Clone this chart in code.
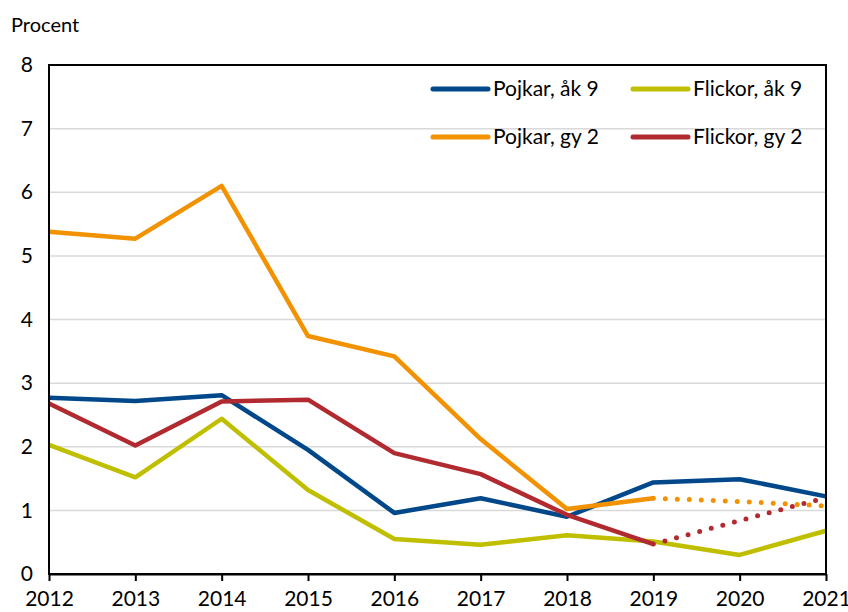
<!DOCTYPE html>
<html>
<head>
<meta charset="utf-8">
<script src="https://cdn.jsdelivr.net/npm/d3@7"></script>
<style>
  body { margin: 0; background: #fff; }
  svg text { font-family: "Lato", "Open Sans", sans-serif; fill: #000; }
</style>
</head>
<body>
<div id="chart"></div>
<script>
// DATA
const years = [2012, 2013, 2014, 2015, 2016, 2017, 2018, 2019, 2020, 2021];
const yTicks = [0, 1, 2, 3, 4, 5, 6, 7, 8];

const pojkarAk9 = [2.77, 2.72, 2.81, 1.95, 0.96, 1.19, 0.90, 1.44, 1.49, 1.22];
const flickorAk9 = [2.03, 1.52, 2.44, 1.32, 0.55, 0.46, 0.61, 0.51, 0.30, 0.68];
// gy 2: solid through 2019, dotted after
const pojkarGy2 = [5.38, 5.27, 6.10, 3.74, 3.42, 2.12, 1.02, 1.19, 1.14, 1.07];
const flickorGy2 = [2.68, 2.02, 2.71, 2.74, 1.90, 1.57, 0.93, 0.47, 0.84, 1.20];

const series = [
  { name: "Pojkar, åk 9", color: "#00488a", values: pojkarAk9, solidTo: 2021 },
  { name: "Flickor, åk 9", color: "#bfbf00", values: flickorAk9, solidTo: 2021 },
  { name: "Pojkar, gy 2", color: "#f39200", values: pojkarGy2, solidTo: 2019 },
  { name: "Flickor, gy 2", color: "#b02a30", values: flickorGy2, solidTo: 2019 }
];

let width = 848,
  height = 612,
  margin = { top: 65, bottom: 38, left: 49, right: 22 };

// SCALES
const xScale = d3
  .scaleLinear()
  .domain([2012, 2021])
  .range([margin.left, width - margin.right]);

const yScale = d3
  .scaleLinear()
  .domain([0, 8])
  .range([height - margin.bottom, margin.top]);

const svg = d3
  .select("#chart")
  .append("svg")
  .attr("width", width)
  .attr("height", height);

// gridlines
svg
  .append("g")
  .selectAll("line")
  .data(yTicks.filter((d) => d > 0 && d < 8))
  .join("line")
  .attr("x1", margin.left)
  .attr("x2", width - margin.right)
  .attr("y1", (d) => yScale(d))
  .attr("y2", (d) => yScale(d))
  .attr("stroke", "#d9d9d9")
  .attr("stroke-width", 1.5);

// lines
const line = d3
  .line()
  .x((d) => xScale(d.year))
  .y((d) => yScale(d.value));

series.forEach((s) => {
  const pts = years.map((y, i) => ({ year: y, value: s.values[i] }));
  const solid = pts.filter((d) => d.year <= s.solidTo);
  const dotted = pts.filter((d) => d.year >= s.solidTo);

  svg
    .append("path")
    .datum(solid)
    .attr("fill", "none")
    .attr("stroke", s.color)
    .attr("stroke-width", 4.5)
    .attr("stroke-linejoin", "round")
    .attr("d", line);

  if (dotted.length > 1) {
    svg
      .append("path")
      .datum(dotted)
      .attr("fill", "none")
      .attr("stroke", s.color)
      .attr("stroke-width", 5)
      .attr("stroke-linecap", "round")
      .style("stroke-dasharray", "0, 12")
      .attr("d", line);
  }
});

// frame
svg
  .append("rect")
  .attr("x", margin.left)
  .attr("y", margin.top)
  .attr("width", width - margin.left - margin.right)
  .attr("height", height - margin.top - margin.bottom)
  .attr("fill", "none")
  .attr("stroke", "#000")
  .attr("stroke-width", 2);

// AXES
const xAxis = d3
  .axisBottom(xScale)
  .tickValues(years)
  .tickFormat(d3.format("d"))
  .tickSize(7)
  .tickSizeOuter(0)
  .tickPadding(10);

const yAxis = d3
  .axisLeft(yScale)
  .tickValues(yTicks)
  .tickSize(0)
  .tickPadding(16);

svg
  .append("g")
  .attr("class", "axis x-axis")
  .attr("transform", `translate(0,${height - margin.bottom})`)
  .call(xAxis)
  .call((g) => g.select(".domain").attr("stroke-width", 2))
  .call((g) => g.selectAll(".tick line").attr("stroke-width", 2))
  .call((g) => g.selectAll("text").style("font-size", "21px"));

svg
  .append("g")
  .attr("class", "axis y-axis")
  .attr("transform", `translate(${margin.left},0)`)
  .call(yAxis)
  .call((g) => g.select(".domain").remove())
  .call((g) => g.selectAll("text").style("font-size", "21px"));

svg
  .append("text")
  .attr("x", 11)
  .attr("y", 32)
  .style("font-size", "20px")
  .text("Procent");

// legend
const legend = svg
  .append("g")
  .selectAll("g")
  .data(series)
  .join("g")
  .attr("transform", (d, i) => `translate(${433 + (i % 2) * 200},${89 + Math.floor(i / 2) * 48})`);

legend
  .append("line")
  .attr("x1", 0)
  .attr("x2", 55)
  .attr("stroke", (d) => d.color)
  .attr("stroke-width", 5)
  .attr("stroke-linecap", "round");

legend
  .append("text")
  .attr("x", 60)
  .attr("dy", "0.35em")
  .style("font-size", "21px")
  .text((d) => d.name);
</script>
</body>
</html>
